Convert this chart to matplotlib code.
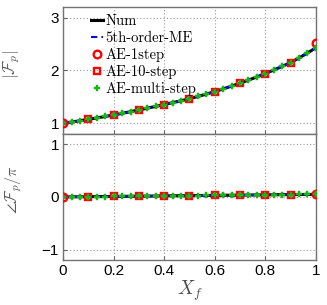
import matplotlib
matplotlib.use("Agg")
import matplotlib.pyplot as plt
from matplotlib.ticker import FixedLocator

# ---- data ----
x_fine = [i / 30 for i in range(31)]
mag_num = [1.000, 1.024, 1.049, 1.075, 1.102, 1.130, 1.158, 1.189, 1.220, 1.253,
           1.287, 1.320, 1.355, 1.391, 1.427, 1.465, 1.508, 1.553, 1.600, 1.652,
           1.705, 1.760, 1.818, 1.878, 1.940, 2.008, 2.077, 2.150, 2.237, 2.330, 2.430]
ph_num = [0.000, 0.002, 0.003, 0.005, 0.007, 0.008, 0.010, 0.012, 0.013, 0.015,
          0.017, 0.018, 0.020, 0.022, 0.023, 0.025, 0.027, 0.028, 0.030, 0.032,
          0.033, 0.035, 0.037, 0.038, 0.040, 0.042, 0.043, 0.045, 0.047, 0.048, 0.050]
x_1step = [0.0, 1.0]
mag_1step = [1.0, 2.52]
ph_1step = [0.0, 0.055]
x_10step = [0.1, 0.2, 0.3, 0.4, 0.5, 0.6, 0.7, 0.8, 0.9]
mag_10step = [1.075, 1.158, 1.253, 1.355, 1.465, 1.600, 1.760, 1.940, 2.150]
ph_10step = [0.005, 0.010, 0.015, 0.020, 0.025, 0.030, 0.035, 0.040, 0.045]
xticks = [0, 0.2, 0.4, 0.6, 0.8, 1]
xticklabels = ["0", "0.2", "0.4", "0.6", "0.8", "1"]
yticks_top = [1, 2, 3]
yticks_bot = [-1, 0, 1]
labels = ["Num", "5th-order-ME", "AE-1step", "AE-10-step", "AE-multi-step"]

plt.rcParams["font.family"] = ["Liberation Sans", "DejaVu Sans"]
plt.rcParams["mathtext.fontset"] = "cm"

fig = plt.figure(figsize=(3.27, 3.05), dpi=100)
ax1 = fig.add_axes([0.193, 0.561, 0.773, 0.416])
ax2 = fig.add_axes([0.193, 0.1475, 0.773, 0.4135])

green = (0.1, 0.7, 0.1)
red = (1.0, 0.0, 0.0)

def draw(ax, yn, y1, y10):
    h = []
    h += ax.plot(x_fine, yn, color="black", lw=2.2, zorder=2)
    h += ax.plot(x_fine, yn, color="blue", lw=1.5, ls=(0, (3, 2)), zorder=3)
    h += ax.plot(x_1step, y1, ls="none", marker="o", ms=5.5, mfc="none",
                 mec=red, mew=1.7, zorder=4)
    h += ax.plot(x_10step, y10, ls="none", marker="s", ms=4.8, mfc="none",
                 mec=red, mew=1.7, zorder=4)
    h += ax.plot(x_fine, yn, ls="none", marker="P", ms=4.8, color=green,
                 mec=green, mew=0.3, zorder=5)
    return h

h = draw(ax1, mag_num, mag_1step, mag_10step)
draw(ax2, ph_num, ph_1step, ph_10step)

for ax in (ax1, ax2):
    ax.set_xlim(0, 1)
    ax.xaxis.set_major_locator(FixedLocator(xticks))
    ax.grid(True, ls=(0, (1, 2)), color="0.6", lw=0.8)
    ax.tick_params(direction="in", length=3, color="0.4", labelsize=11, pad=3)
    for s in ax.spines.values():
        s.set_color("0.45")
        s.set_linewidth(1.0)
    ax.set_axisbelow(True)

ax1.set_ylim(0.8, 3.2)
ax1.set_yticks(yticks_top)
ax1.set_xticklabels([])
ax2.set_ylim(-1.2, 1.2)
ax2.set_yticks(yticks_bot)
ax2.set_yticklabels(["\u22121", "0", "1"])
ax2.set_xticklabels(xticklabels)

ax1.set_ylabel(r"$|\mathcal{F}_p|$", fontsize=12, color="0.35")
ax1.yaxis.set_label_coords(-0.162, 0.55)
ax2.set_ylabel(r"$\angle\mathcal{F}_p/\pi$", fontsize=11.5, color="0.35")
ax2.yaxis.set_label_coords(-0.155, 0.556)
ax2.set_xlabel(r"$X_f$", fontsize=14, color="0.3", labelpad=0)

leg = ax1.legend(h, labels, loc="upper left", bbox_to_anchor=(0.07, 1.025),
                 frameon=False, handlelength=0.85, handletextpad=0.12,
                 labelspacing=0.22, borderpad=0.2,
                 prop={"family": ["cmr10", "DejaVu Serif"], "size": 10.5})

fig.savefig("out.png", dpi=100)
